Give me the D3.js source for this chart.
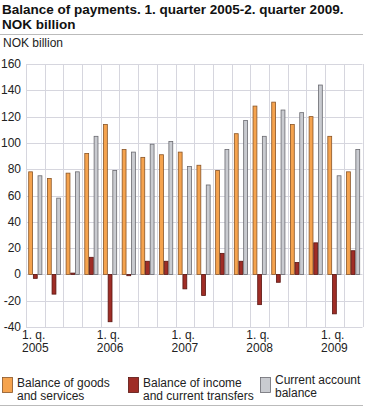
<!DOCTYPE html>
<html><head><meta charset="utf-8">
<script src="https://cdn.jsdelivr.net/npm/d3@7"></script>
<style>body{margin:0;background:#fff}svg{display:block;font-family:Arial,"Liberation Sans",sans-serif}</style>
</head><body><svg id="c" width="365" height="407"></svg>
<script>
const quarters = ["2005Q1","2005Q2","2005Q3","2005Q4","2006Q1","2006Q2","2006Q3","2006Q4","2007Q1","2007Q2","2007Q3","2007Q4","2008Q1","2008Q2","2008Q3","2008Q4","2009Q1","2009Q2"];
const goodsServices = [78,73,77,92,114,95,89,91,93,83,79,107,128,131,114,120,105,78];
const incomeTransfers = [-3,-15,1,13,-36,-1,10,10,-11,-16,16,10,-23,-6,9,24,-30,18];
const currentAccount = [75,58,78,105,79,93,99,101,82,68,95,117,105,125,123,144,75,95];
const yTicks = [-40,-20,0,20,40,60,80,100,120,140,160];
const xLabels = [{q:"2005Q1",l1:"1. q.",l2:"2005"},{q:"2006Q1",l1:"1. q.",l2:"2006"},{q:"2007Q1",l1:"1. q.",l2:"2007"},{q:"2008Q1",l1:"1. q.",l2:"2008"},{q:"2009Q1",l1:"1. q.",l2:"2009"}];
const seriesNames = ["Balance of goods\nand services","Balance of income\nand current transfers","Current account\nbalance"];
const colors = ["#f5a34e","#9f2d26","#c9cbd0"];
const strokes = ["#8a5526","#5a1510","#6a6a70"];
const series = [goodsServices, incomeTransfers, currentAccount];

const svg = d3.select("#c");
const L = 26, R = 362.5, T = 64, B = 327;
const y = d3.scaleLinear().domain([-40,160]).range([B,T]);
const x0 = d3.scaleBand().domain(quarters).range([L,R]).padding(0);
const x1 = d3.scaleBand().domain([0,1,2]).range([2.3, x0.bandwidth()-2.4]).padding(0);

// title
svg.append("text").attr("x",2).attr("y",14).attr("font-size",13.5).attr("font-weight","bold").attr("fill","#111").text("Balance of payments. 1. quarter 2005-2. quarter 2009.");
svg.append("text").attr("x",2).attr("y",29).attr("font-size",13.5).attr("font-weight","bold").attr("fill","#111").text("NOK billion");
svg.append("line").attr("x1",0).attr("x2",363).attr("y1",34.5).attr("y2",34.5).attr("stroke","#bbb").attr("stroke-width",1);
svg.append("text").attr("x",3).attr("y",47).attr("font-size",12).attr("fill","#222").text("NOK billion");

// grid
const g = svg.append("g");
g.selectAll("line.h").data(yTicks).join("line").attr("x1",L).attr("x2",R)
 .attr("y1",d=>Math.round(y(d))+0.5).attr("y2",d=>Math.round(y(d))+0.5).attr("stroke","#d6d6de");
const vb = quarters.map(q=>x0(q)).concat([R]);
g.selectAll("line.v").data(vb).join("line").attr("x1",d=>Math.round(d)+0.5).attr("x2",d=>Math.round(d)+0.5)
 .attr("y1",T).attr("y2",B).attr("stroke","#d6d6de");

// y axis labels
svg.append("g").selectAll("text").data(yTicks).join("text")
 .attr("x",21).attr("y",d=>y(d)+4).attr("text-anchor","end").attr("font-size",12).attr("fill","#222").text(d=>d);

// bars
series.forEach((vals,si)=>{
  svg.append("g").selectAll("rect").data(vals).join("rect")
   .attr("x",(d,i)=>x0(quarters[i])+x1(si)+0.4)
   .attr("width",x1.bandwidth()-0.8)
   .attr("y",d=>y(Math.max(0,d)))
   .attr("height",d=>Math.abs(y(d)-y(0)))
   .attr("fill",colors[si]).attr("stroke",strokes[si]).attr("stroke-width",0.8);
});

// x labels
const xl = svg.append("g");
xLabels.forEach(d=>{
  const cx = x0(d.q)+x0.bandwidth()/2;
  const t2 = xl.append("text").attr("y",352).attr("font-size",12).attr("fill","#222").text(d.l2);
  const w = t2.node().getComputedTextLength();
  t2.attr("x",cx-w/2);
  xl.append("text").attr("x",cx-w/2).attr("y",339).attr("font-size",12).attr("fill","#222").text(d.l1);
});

// legend
const legX = [2,128,260];
seriesNames.forEach((n,i)=>{
  svg.append("rect").attr("x",legX[i]+0.5).attr("y",377.5).attr("width",10).attr("height",15)
   .attr("fill",colors[i]).attr("stroke",strokes[i]).attr("stroke-width",0.8);
  const lines = n.split("\n");
  lines.forEach((ln,k)=>{
    svg.append("text").attr("x",legX[i]+15).attr("y",(i===2?384:387)+k*12.5).attr("font-size",12).attr("fill","#222").text(ln);
  });
});
svg.append("line").attr("x1",0).attr("x2",363).attr("y1",405.5).attr("y2",405.5).attr("stroke","#bbb");
</script></body></html>
